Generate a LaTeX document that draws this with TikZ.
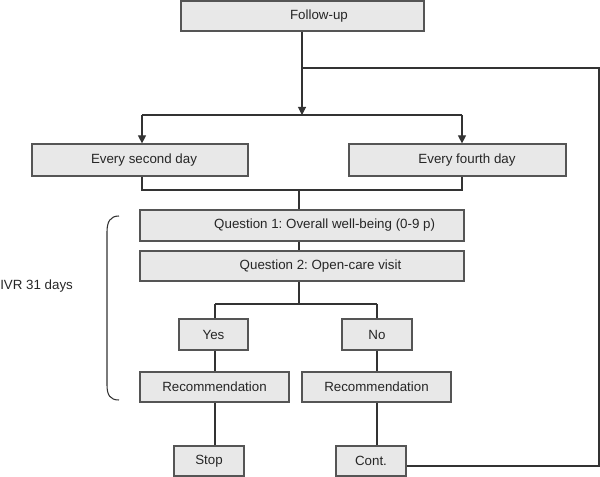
\documentclass[tikz,border=0pt]{standalone}
\usepackage{fontspec}
\setmainfont{Liberation Sans}
\frenchspacing
\usetikzlibrary{arrows.meta}
\definecolor{boxfill}{HTML}{E8E8E8}
\definecolor{boxline}{HTML}{555555}
\definecolor{conn}{HTML}{333333}
\def\u{0.75pt}
\tikzset{
  stepbox/.style={draw=boxline, fill=boxfill, line width=0.9pt, inner sep=0pt,
    font=\fontsize{10}{12}\selectfont, text=black!85},
  wh/.style 2 args={minimum width=#1*\u, minimum height=#2*\u},
  conline/.style={draw=conn, line width=0.8pt},
  arr/.style={conline, -{Triangle[length=6pt,width=6pt]}},
}
\begin{document}
\begin{tikzpicture}[x=0.75pt, y=-0.75pt]
\useasboundingbox (0,0) rectangle (600,477);
% boxes
\node[stepbox, wh={243}{30}] (follow) at (302.5,16) {\hspace*{24.75pt}Follow-up};
\node[stepbox, wh={216}{32}] (second) at (140,160) {\hspace*{6pt}Every second day};
\node[stepbox, wh={217}{32}] (fourth) at (457.5,160) {\hspace*{14.25pt}Every fourth day};
\node[stepbox, wh={324}{31}] (q1) at (302,225.5) {\hspace*{34pt}Question 1: Overall well-being (0-9 p)};
\node[stepbox, wh={324}{30}] (q2) at (302,266) {\hspace*{27.75pt}Question 2: Open-care visit};
\node[stepbox, wh={69}{31}] (yes) at (213.5,334.5) {Yes};
\node[stepbox, wh={70}{31}] (no) at (377,334.5) {No};
\node[stepbox, wh={149}{30}] (rec1) at (214.5,387) {Recommendation};
\node[stepbox, wh={149}{30}] (rec2) at (376.5,387) {Recommendation};
\node[stepbox, wh={70}{30}] (stop) at (209,461) {Stop};
\node[stepbox, wh={70}{30}] (cont) at (371,461) {Cont.};
\node[anchor=west, inner sep=0pt, font=\fontsize{10}{12}\selectfont, text=black!85] (ivr) at (0,286) {IVR 31 days};
% coordinates
\coordinate (split) at (302,115);
\coordinate (splitL) at (142,115);
\coordinate (splitR) at (462,115);
\coordinate (loopT) at (599,68);
\coordinate (loopB) at (599,466);
\coordinate (mergeL) at (142,190);
\coordinate (mergeR) at (462,190);
\coordinate (mergeM) at (299,190);
\coordinate (qsplit) at (299,304);
\coordinate (qsplitL) at (215,304);
\coordinate (qsplitR) at (377,304);
% connectors
\draw[arr] (follow.south -| split) -- (split);
\draw[conline] (split |- loopT) -- (loopT) -- (loopB) -- (cont.east |- loopB);
\draw[conline] (splitL) -- (splitR);
\draw[arr] (splitL) -- (splitL |- second.north);
\draw[arr] (splitR) -- (splitR |- fourth.north);
\draw[conline] (mergeL |- second.south) -- (mergeL) -- (mergeR) -- (mergeR |- fourth.south);
\draw[conline] (mergeM) -- (mergeM |- q1.north);
\draw[conline] (mergeM |- q1.south) -- (mergeM |- q2.north);
\draw[conline] (qsplit |- q2.south) -- (qsplit);
\draw[conline] (qsplitL) -- (qsplitR);
\draw[conline] (qsplitL) -- (qsplitL |- yes.north);
\draw[conline] (qsplitR) -- (qsplitR |- no.north);
\draw[conline] (qsplitL |- yes.south) -- (qsplitL |- rec1.north);
\draw[conline] (qsplitR |- no.south) -- (qsplitR |- rec2.north);
\draw[conline] (qsplitL |- rec1.south) -- (qsplitL |- stop.north);
\draw[conline] (qsplitR |- rec2.south) -- (qsplitR |- cont.north);
% bracket
\draw[conline] (119,216) .. controls (110,216) and (107,222) .. (107,232) -- (107,385) .. controls (107,395) and (110,400) .. (119,400);
\end{tikzpicture}
\end{document}
